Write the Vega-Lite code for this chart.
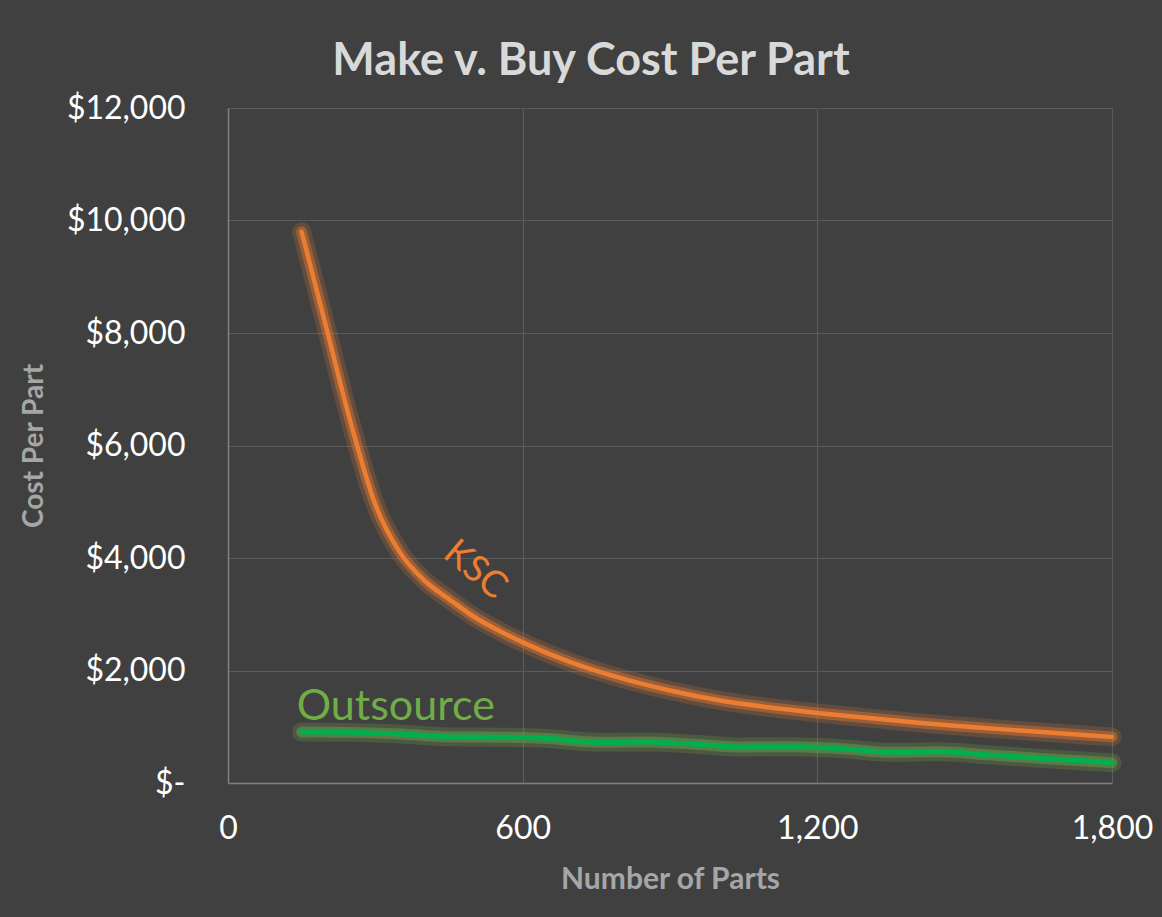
{
  "$schema": "https://vega.github.io/schema/vega-lite/v6.json",
  "autosize": {"type": "none"},
  "padding": {"left": 228, "top": 108, "right": 50, "bottom": 134},
  "width": 884,
  "height": 675,
  "background": "#404040",
  "title": {
    "text": "Make v. Buy Cost Per Part",
    "font": "Lato",
    "fontSize": 45,
    "fontWeight": "bold",
    "color": "#d9d9d9",
    "anchor": "middle",
    "offset": 8,
    "dx": -79
  },
  "datasets": {
    "costs": [
      {"n": 150, "cost": 9800, "series": "KSC"},
      {"n": 200, "cost": 8100, "series": "KSC"},
      {"n": 250, "cost": 6400, "series": "KSC"},
      {"n": 300, "cost": 4950, "series": "KSC"},
      {"n": 350, "cost": 4100, "series": "KSC"},
      {"n": 400, "cost": 3600, "series": "KSC"},
      {"n": 450, "cost": 3270, "series": "KSC"},
      {"n": 500, "cost": 2960, "series": "KSC"},
      {"n": 550, "cost": 2715, "series": "KSC"},
      {"n": 600, "cost": 2500, "series": "KSC"},
      {"n": 700, "cost": 2140, "series": "KSC"},
      {"n": 800, "cost": 1865, "series": "KSC"},
      {"n": 900, "cost": 1645, "series": "KSC"},
      {"n": 1000, "cost": 1470, "series": "KSC"},
      {"n": 1100, "cost": 1345, "series": "KSC"},
      {"n": 1200, "cost": 1245, "series": "KSC"},
      {"n": 1300, "cost": 1160, "series": "KSC"},
      {"n": 1400, "cost": 1075, "series": "KSC"},
      {"n": 1500, "cost": 1005, "series": "KSC"},
      {"n": 1600, "cost": 940, "series": "KSC"},
      {"n": 1700, "cost": 880, "series": "KSC"},
      {"n": 1800, "cost": 820, "series": "KSC"},
      {"n": 150, "cost": 905, "series": "Outsource"},
      {"n": 250, "cost": 900, "series": "Outsource"},
      {"n": 350, "cost": 870, "series": "Outsource"},
      {"n": 450, "cost": 820, "series": "Outsource"},
      {"n": 550, "cost": 815, "series": "Outsource"},
      {"n": 650, "cost": 790, "series": "Outsource"},
      {"n": 750, "cost": 725, "series": "Outsource"},
      {"n": 850, "cost": 730, "series": "Outsource"},
      {"n": 950, "cost": 690, "series": "Outsource"},
      {"n": 1050, "cost": 640, "series": "Outsource"},
      {"n": 1150, "cost": 645, "series": "Outsource"},
      {"n": 1250, "cost": 610, "series": "Outsource"},
      {"n": 1350, "cost": 545, "series": "Outsource"},
      {"n": 1450, "cost": 555, "series": "Outsource"},
      {"n": 1550, "cost": 500, "series": "Outsource"},
      {"n": 1650, "cost": 440, "series": "Outsource"},
      {"n": 1800, "cost": 360, "series": "Outsource"}
    ],
    "labels": [
      {"n": 503, "cost": 3787, "label": "KSC"},
      {"n": 140, "cost": 1120, "label": "Outsource"}
    ]
  },
  "encoding": {
    "x": {
      "field": "n",
      "type": "quantitative",
      "scale": {"domain": [0, 1800], "nice": false},
      "axis": {
        "values": [0, 600, 1200, 1800],
        "title": "Number of Parts",
        "format": ",d",
        "grid": true,
        "gridColor": "#5a5a5a",
        "gridWidth": 1.2,
        "domainColor": "#7f7f7f",
        "domainWidth": 1.5,
        "ticks": false,
        "labelFont": "Lato",
        "labelFontSize": 32,
        "labelColor": "#ffffff",
        "labelPadding": 30,
        "labelFlush": false,
        "titleFont": "Lato",
        "titleFontSize": 30,
        "titleFontWeight": "bold",
        "titleColor": "#a6a6a6",
        "titlePadding": 20
      }
    },
    "y": {
      "field": "cost",
      "type": "quantitative",
      "scale": {"domain": [0, 12000], "nice": false},
      "axis": {
        "values": [0, 2000, 4000, 6000, 8000, 10000, 12000],
        "title": "Cost Per Part",
        "labelExpr": "datum.value == 0 ? '$-' : '$' + format(datum.value, ',')",
        "grid": true,
        "gridColor": "#5a5a5a",
        "gridWidth": 1.2,
        "domainColor": "#7f7f7f",
        "domainWidth": 1.5,
        "ticks": false,
        "labelFont": "Lato",
        "labelFontSize": 32,
        "labelColor": "#ffffff",
        "labelPadding": 43,
        "titleFont": "Lato",
        "titleFontSize": 28,
        "titleFontWeight": "bold",
        "titleColor": "#a6a6a6",
        "titlePadding": 18
      }
    }
  },
  "layer": [
    {
      "data": {"name": "costs"},
      "transform": [{"filter": "datum.series == 'KSC'"}],
      "mark": {"type": "line", "interpolate": "monotone", "color": "#ED7D31", "strokeWidth": 19, "opacity": 0.2, "strokeCap": "round"}
    },
    {
      "data": {"name": "costs"},
      "transform": [{"filter": "datum.series == 'KSC'"}],
      "mark": {"type": "line", "interpolate": "monotone", "color": "#ED7D31", "strokeWidth": 11, "opacity": 0.4, "strokeCap": "round"}
    },
    {
      "data": {"name": "costs"},
      "transform": [{"filter": "datum.series == 'Outsource'"}],
      "mark": {"type": "line", "interpolate": "monotone", "color": "#70AD47", "strokeWidth": 19, "opacity": 0.22, "strokeCap": "round"}
    },
    {
      "data": {"name": "costs"},
      "transform": [{"filter": "datum.series == 'Outsource'"}],
      "mark": {"type": "line", "interpolate": "monotone", "color": "#70AD47", "strokeWidth": 11, "opacity": 0.42, "strokeCap": "round"}
    },
    {
      "data": {"name": "costs"},
      "transform": [{"filter": "datum.series == 'KSC'"}],
      "mark": {"type": "line", "interpolate": "monotone", "color": "#ED7D31", "strokeWidth": 4.5, "strokeCap": "round"}
    },
    {
      "data": {"name": "costs"},
      "transform": [{"filter": "datum.series == 'Outsource'"}],
      "mark": {"type": "line", "interpolate": "monotone", "color": "#00B050", "strokeWidth": 5, "strokeCap": "round"}
    },
    {
      "data": {"name": "labels"},
      "transform": [{"filter": "datum.label == 'KSC'"}],
      "mark": {"type": "text", "font": "Lato", "fontSize": 37, "color": "#ED7D31", "angle": 40, "align": "center", "baseline": "middle"},
      "encoding": {"text": {"field": "label"}}
    },
    {
      "data": {"name": "labels"},
      "transform": [{"filter": "datum.label == 'Outsource'"}],
      "mark": {"type": "text", "font": "Lato", "fontSize": 43, "color": "#70AD47", "align": "left", "baseline": "alphabetic"},
      "encoding": {"text": {"field": "label"}}
    }
  ],
  "config": {
    "view": {"stroke": null}
  }
}
